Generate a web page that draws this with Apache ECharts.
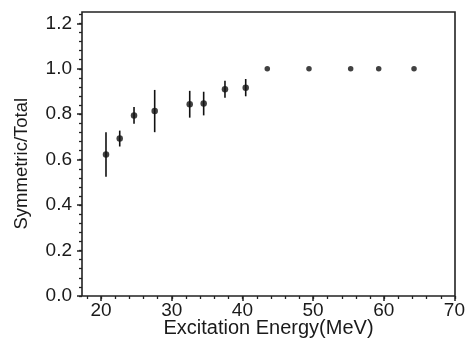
<!DOCTYPE html>
<html><head><meta charset="utf-8">
<script src="https://cdn.jsdelivr.net/npm/echarts@6/dist/echarts.min.js"></script>
<style>html,body{margin:0;padding:0;background:#fff}#c{width:468px;height:354px}</style>
</head><body><div id="c"></div>
<script>
// Data
const energy   = [20.69, 22.63, 24.65, 27.57, 32.52, 34.49, 37.50, 40.43, 43.48, 49.37, 55.26, 59.22, 64.21];
const ratio    = [0.623, 0.693, 0.795, 0.814, 0.844, 0.847, 0.910, 0.917, 1.000, 1.000, 1.000, 1.000, 1.000];
const ratioErr = [0.098, 0.035, 0.037, 0.093, 0.059, 0.052, 0.037, 0.038, 0, 0, 0, 0, 0];
const xTickLabels = ['20', '30', '40', '50', '60', '70'];
const yTickLabels = ['0.0', '0.2', '0.4', '0.6', '0.8', '1.0', '1.2'];

const L = 82, R = 13, T = 12, B = 58, W = 468, H = 354;
const X0 = 17.3, X1 = 70, Y1 = 1.25;
const kx = (W - L - R) / (X1 - X0);
const ky = (H - T - B) / Y1;
const FONT = '"Liberation Sans", Arial, sans-serif';
const INK = '#1a1a1a';

const pts = energy.map((e, i) => [e, ratio[i], ratioErr[i]]);

const hiddenAxis = (gi) => ({ gridIndex: gi, type: 'value', show: false, min: 0, max: 1 });

const chart = echarts.init(document.getElementById('c'), null, { renderer: 'canvas' });
chart.setOption({
  animation: false,
  backgroundColor: '#fff',
  grid: [
    { left: L, right: R, top: T, bottom: B, show: true, borderColor: '#222', borderWidth: 1.6, backgroundColor: 'transparent' },
    { left: L + (20 - X0) * kx, right: R, top: T, bottom: B },
    { left: L + (18 - X0) * kx, right: R, top: T, bottom: B },
    { left: L, right: R, top: T + (Y1 - 1.2) * ky, bottom: B },
    { left: L, right: R, top: T + (Y1 - 1.24) * ky, bottom: B }
  ],
  xAxis: [
    { gridIndex: 0, type: 'value', min: X0, max: X1,
      axisLine: { show: false }, axisTick: { show: false }, axisLabel: { show: false }, splitLine: { show: false },
      name: 'Excitation Energy(MeV)', nameLocation: 'middle', nameGap: 22,
      nameTextStyle: { fontFamily: FONT, fontSize: 20, color: INK } },
    { gridIndex: 1, type: 'value', min: 20, max: 70, interval: 10,
      axisLine: { show: false }, splitLine: { show: false },
      axisTick: { show: true, inside: false, length: 5, lineStyle: { color: '#222', width: 1.5 } },
      axisLabel: { show: true, margin: 5, fontFamily: FONT, fontSize: 19, color: INK,
        formatter: v => { const i = xTickLabels.indexOf(String(Math.round(v))); return i >= 0 ? xTickLabels[i] : ''; } } },
    { gridIndex: 2, type: 'value', min: 18, max: 70, interval: 2,
      axisLine: { show: false }, splitLine: { show: false }, axisLabel: { show: false },
      axisTick: { show: true, inside: false, length: 3, lineStyle: { color: '#222', width: 1.3 } } },
    hiddenAxis(3),
    hiddenAxis(4)
  ],
  yAxis: [
    { gridIndex: 0, type: 'value', min: 0, max: Y1,
      axisLine: { show: false }, axisTick: { show: false }, axisLabel: { show: false }, splitLine: { show: false } },
    hiddenAxis(1),
    hiddenAxis(2),
    { gridIndex: 3, type: 'value', min: 0, max: 1.2, interval: 0.2,
      axisLine: { show: false }, splitLine: { show: false },
      axisTick: { show: true, inside: false, length: 5, lineStyle: { color: '#222', width: 1.5 } },
      axisLabel: { show: true, margin: 10, fontFamily: FONT, fontSize: 19, color: INK,
        formatter: v => { const s = v.toFixed(1); return yTickLabels.indexOf(s) >= 0 ? s : ''; } },
      name: 'Symmetric/Total', nameLocation: 'middle', nameGap: 51, nameRotate: 90,
      nameTextStyle: { fontFamily: FONT, fontSize: 18.5, color: INK, padding: [0, 8, 0, 0] } },
    { gridIndex: 4, type: 'value', min: 0, max: 1.24, interval: 0.04,
      axisLine: { show: false }, splitLine: { show: false }, axisLabel: { show: false },
      axisTick: { show: true, inside: false, length: 3, lineStyle: { color: '#222', width: 1.3 } } }
  ],
  series: [
    { type: 'custom', xAxisIndex: 0, yAxisIndex: 0, data: pts, silent: true,
      renderItem: (params, api) => {
        const x = api.value(0), y = api.value(1), e = api.value(2);
        if (!e) return null;
        const a = api.coord([x, y + e]), b = api.coord([x, y - e]);
        return { type: 'line', shape: { x1: a[0], y1: a[1], x2: b[0], y2: b[1] },
                 style: { stroke: '#111', lineWidth: 1.6 } };
      } },
    { type: 'scatter', xAxisIndex: 0, yAxisIndex: 0, data: pts, symbol: 'circle',
      symbolSize: (v) => v[2] ? 6.5 : 5.5,
      itemStyle: { color: '#111' } }
  ]
});
</script>
</body></html>
